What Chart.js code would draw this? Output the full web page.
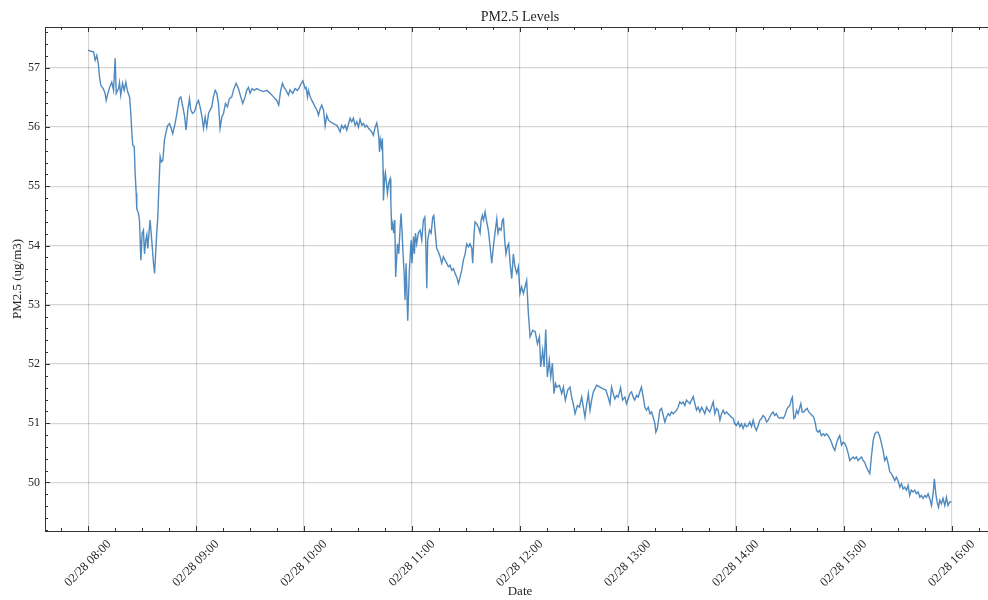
<!DOCTYPE html>
<html>
  <head>
    <meta charset="UTF-8" />
    <title>PM2.5 Levels</title>
    <style>
      html,
      body {
        margin: 0;
        padding: 0;
        overflow: hidden;
        background: #fff;
      }
      .chart-container {
        width: 1000px;
        height: 600px;
        position: relative;
      }
    </style>
    <script src="https://cdn.jsdelivr.net/npm/chart.js"></script>
  </head>
  <body>
    <div class="chart-container"><canvas id="chart"></canvas></div>
    <script>
      // minutes after 02/28 08:00
      const minutes = [
        0, 1.5, 3, 3.9, 4.8, 5.7, 6.3, 7, 8.5, 9.4,
        10, 10.7, 11.9, 13.1, 14.1, 15, 15.6, 16.9, 17.4, 18.1,
        19.1, 20, 20.9, 21.9, 23, 23.7, 24.3, 24.8, 25.6, 26.1,
        26.7, 27, 28, 28.5, 28.9, 29.3, 30, 30.7, 31.3, 32,
        32.6, 33.1, 33.7, 34.4, 35, 35.6, 36.3, 36.9, 37.4, 38.1,
        38.7, 39.3, 40, 40.7, 41.5, 42.4, 43.1, 44.1, 45.2, 46.1,
        47, 48.3, 49.3, 50.6, 51.5, 52.6, 53.5, 54.4, 55.4, 56.3,
        57, 58, 59.1, 60.4, 61.3, 62.2, 63.1, 64.1, 65, 65.9,
        66.9, 67.8, 68.7, 69.6, 70.6, 71.5, 72.4, 73.3, 74.3, 75.2,
        76.3, 77.4, 78.5, 79.8, 80.7, 82.2, 83.5, 84.8, 85.9, 87.2,
        88.1, 89.1, 90, 91.1, 92.2, 93.7, 95.6, 97.4, 99.3, 101.1,
        103, 104.8, 105.9, 107, 108, 108.9, 110, 111.3, 112.2, 113.7,
        115, 116.3, 117.4, 118.5, 119.3,
        120.6, 121.1, 121.9, 122.4, 123.4, 124.3, 125.2, 126.1, 127.1, 128,
        128.9, 129.8, 130.8, 131.7, 132.6, 133.5, 134.5, 136.3, 138.2, 139.1,
        140, 140.9, 141.9, 142.8, 143.7, 145.6, 146.5, 147.4, 148.4, 149.3,
        150.2, 151.1, 152.1, 153, 153.9, 154.8, 155.8, 156.7, 157.6, 158.5,
        159.5, 160.4, 160.9, 161.5, 161.9, 162.4, 163, 163.5, 163.9, 164.1,
        164.7, 165.2, 165.8, 166.3, 167.1, 167.8, 168.2, 168.7, 169.3, 169.8,
        170.4, 170.9, 171.5, 171.9, 172.6, 173.4, 173.9, 174.5, 175, 175.6,
        176.1, 176.7, 177.6, 178.5, 179.5, 180, 180.8, 181.3, 181.9, 182.6,
        183.5, 184.5, 185.4, 186.3, 187.1, 187.6, 188.2, 188.7, 189.7, 190.6,
        191.5, 192.1, 192.8, 193.7, 194.7, 195.6, 196.5, 197.4, 198.4, 199.3,
        200.2, 201.1, 202.1, 203, 203.9, 204.8, 205.8, 206.7, 207.6, 208.5,
        209.5, 210.4, 211.3, 212.2, 213.2, 213.7, 214.5, 215, 215.9, 216.9,
        217.8, 218.4, 219.1, 219.7, 220.6, 221.5, 222.4, 223.4, 224.3, 225.2,
        226.1, 227.1, 227.8, 228.5, 229.5, 230.2, 230.8, 231.5, 232.2, 233,
        233.7, 234.5, 235.4, 236.3, 237.2, 238.2, 239.1, 240, 240.9, 241.9,
        242.8, 243.7,
        244.6, 245.6, 247.1, 248.5, 249.7, 250.8, 251.5, 252.6, 253.4, 254.3,
        255.2, 256.3, 257.1, 258, 258.9, 259.7, 260.4, 261.9, 263.2, 264.1,
        265.2, 266.5, 267.8, 268.7, 269.6, 270.6, 271.9, 273, 274.3, 275.2,
        276.1, 277.1, 278, 278.9, 279.8, 280.8, 282.6,
        286.3, 287.7, 289, 290, 290.9, 291.8, 292.7, 293.7, 294.6, 295.9,
        297, 298.3, 299.2, 300.1, 301.1, 302, 302.9, 303.8, 304.8, 305.7,
        306.6, 307.5, 308.5, 309.4, 310.3, 311.3, 312.2, 313.1, 314, 315,
        315.5, 316.3, 317, 317.7, 318.7, 319.6, 320.5, 321.4, 322.4, 323.3,
        324.2, 325.1, 326.1, 327, 327.9, 328.8, 329.8, 330.7, 331.6, 332.5,
        333.5, 334.4, 335.3, 336.3, 337.2, 338.1, 339, 340, 340.9, 341.8,
        342.7, 343.7, 344.6, 345.5, 346.4, 347.4, 348.3, 349.2, 350.1, 351.1,
        352, 352.9, 353.8, 354.8, 355.7, 356.6, 357.5, 358.5, 359.4, 360.3,
        361.3, 362.2, 363.1, 364, 365, 365.9, 366.8, 367.7, 368.7, 369.6,
        370.5, 371.4, 372.4, 373.3, 374.2, 375.1, 376.1, 377, 377.9, 378.8,
        379.8, 380.7, 381.6, 382.5, 383.5, 384.4, 385.3, 386.3, 387.2, 388.1,
        389, 390, 390.9, 391.4, 392.2, 392.9, 393.7, 394.6, 395.5, 396.1,
        396.8, 397.7, 398.8, 399.6, 400.5, 401.4, 402.4, 403.3, 404.2, 404.8,
        405.7, 406.6, 407.5, 408.5, 409.4, 410.3, 411.3, 412.2, 413.1, 414,
        415, 415.9, 416.8, 417.7, 418.7, 419.6, 420.5, 421.4, 422.4, 423.3,
        424.2, 425.1, 426.1, 427, 427.9, 428.8, 429.8, 430.7, 431.6, 432.5,
        433.5, 434.4, 435.3, 436.3, 437.2, 438.1, 439, 440, 440.9, 441.8,
        442.7, 443.7, 444.6, 445.5, 446.4, 447.4, 448.3, 449.2, 450.1, 451.1,
        452, 452.9, 453.8, 454.8, 455.7, 456.6, 457.5, 458.5, 459.4, 460.3,
        461.3, 462.2, 463.1, 464, 465, 465.9, 466.8, 467.7, 468.7, 469.6,
        470.3, 471.1, 471.8, 472.6, 473.3, 474.2, 475.1, 476.1, 477, 477.9,
        478.8, 479.8
      ];

      // PM2.5 (ug/m3)
      const pm25 = [
        57.30, 57.28, 57.27, 57.13, 57.21, 57.05, 56.85, 56.71, 56.64, 56.57,
        56.45, 56.54, 56.67, 56.76, 56.62, 57.16, 56.57, 56.65, 56.75, 56.54,
        56.74, 56.62, 56.76, 56.60, 56.51, 56.23, 55.89, 55.69, 55.67, 55.22,
        54.88, 54.62, 54.54, 54.43, 54.09, 53.75, 54.21, 54.26, 53.86, 54.09,
        54.18, 53.95, 54.18, 54.43, 54.21, 53.98, 53.70, 53.53, 53.81, 54.21,
        54.48, 54.99, 55.50, 55.41, 55.44, 55.78, 55.89, 56.02, 56.06, 55.98,
        55.89, 56.06, 56.23, 56.48, 56.51, 56.34, 56.20, 55.95, 56.29, 56.48,
        56.29, 56.23, 56.26, 56.40, 56.45, 56.34, 56.20, 55.98, 56.17, 56.00,
        56.23, 56.29, 56.34, 56.51, 56.62, 56.57, 56.40, 55.98, 56.17, 56.23,
        56.40, 56.34, 56.48, 56.51, 56.62, 56.74, 56.65, 56.51, 56.40, 56.51,
        56.62, 56.67, 56.57, 56.65, 56.62, 56.65, 56.62, 56.60, 56.62, 56.57,
        56.51, 56.45, 56.37, 56.62, 56.74, 56.67, 56.62, 56.54, 56.63, 56.57,
        56.65, 56.62, 56.67, 56.74, 56.78,
        56.65, 56.67, 56.51, 56.62, 56.51, 56.45, 56.40, 56.34, 56.29, 56.20,
        56.31, 56.37, 56.29, 56.02, 56.20, 56.12, 56.09, 56.06, 56.03, 55.98,
        55.92, 56.03, 55.98, 56.03, 55.95, 56.15, 56.09, 56.15, 56.03, 56.09,
        56.00, 56.13, 56.03, 56.06, 56.00, 56.03, 55.98, 55.95, 55.92, 55.86,
        56.00, 56.07, 55.98, 55.84, 55.58, 55.78, 55.67, 55.81, 55.27, 54.76,
        55.10, 55.22, 55.05, 54.88, 55.07, 55.13, 54.76, 54.26, 54.37, 54.21,
        54.43, 53.47, 53.81, 54.03, 53.86, 54.31, 54.54, 54.21, 53.86, 53.53,
        53.08, 53.70, 52.73, 53.58, 54.09, 53.70, 54.15, 53.86, 54.21, 54.03,
        54.21, 54.26, 54.09, 54.43, 54.48, 54.09, 53.28, 54.09, 54.26, 54.21,
        54.48, 54.51, 54.26, 53.95, 53.89, 53.81, 53.70, 53.81, 53.75, 53.70,
        53.64, 53.67, 53.58, 53.61, 53.53, 53.47, 53.36, 53.47, 53.58, 53.75,
        53.86, 54.03, 53.98, 54.03, 53.95, 53.70, 54.21, 54.40, 54.37, 54.31,
        54.21, 54.43, 54.51, 54.43, 54.57, 54.40, 54.26, 53.98, 53.70, 53.98,
        54.21, 54.45, 54.21, 54.29, 54.26, 54.43, 54.45, 54.09, 53.86, 53.98,
        54.03, 53.70, 53.44, 53.86, 53.64, 53.53, 53.64, 53.19, 53.30, 53.19,
        53.30, 53.41,
        52.88, 52.46, 52.57, 52.54, 52.34, 52.46, 51.95, 52.23, 51.95, 52.58,
        51.78, 52.06, 51.78, 52.01, 51.50, 51.67, 51.61, 51.64, 51.50, 51.61,
        51.39, 51.56, 51.61, 51.44, 51.33, 51.16, 51.30, 51.27, 51.44, 51.27,
        51.10, 51.33, 51.50, 51.22, 51.39, 51.53, 51.64,
        51.58, 51.56, 51.44, 51.33, 51.61, 51.50, 51.41, 51.47, 51.44, 51.60,
        51.39, 51.44, 51.33, 51.41, 51.50, 51.53, 51.44, 51.39, 51.47, 51.44,
        51.53, 51.61, 51.44, 51.27, 51.22, 51.27, 51.16, 51.19, 51.10, 50.99,
        50.85, 50.91, 51.05, 51.22, 51.25, 51.13, 51.02, 51.10, 51.16, 51.13,
        51.19, 51.16, 51.19, 51.22, 51.27, 51.36, 51.33, 51.36, 51.30, 51.39,
        51.36, 51.33, 51.39, 51.45, 51.33, 51.22, 51.27, 51.19, 51.27, 51.22,
        51.16, 51.27, 51.22, 51.19, 51.27, 51.36, 51.16, 51.25, 51.22, 51.05,
        51.16, 51.22, 51.16, 51.19, 51.16, 51.13, 51.10, 51.08, 50.99, 50.96,
        51.02, 50.94, 50.99, 50.91, 50.99, 50.94, 50.96, 51.02, 50.94, 51.05,
        50.94, 50.88, 50.96, 51.05, 51.08, 51.13, 51.10, 51.02, 51.05, 51.10,
        51.16, 51.19, 51.13, 51.16, 51.10, 51.08, 51.10, 51.08, 51.13, 51.22,
        51.27, 51.30, 51.41, 51.44, 51.08, 51.10, 51.22, 51.16, 51.27, 51.33,
        51.19, 51.19, 51.23, 51.25, 51.19, 51.16, 51.13, 51.10, 50.99, 50.88,
        50.85, 50.88, 50.79, 50.82, 50.79, 50.82, 50.79, 50.74, 50.68, 50.60,
        50.54, 50.66, 50.74, 50.79, 50.63, 50.68, 50.66, 50.60, 50.49, 50.37,
        50.40, 50.43, 50.40, 50.43, 50.37, 50.40, 50.43, 50.37, 50.34, 50.26,
        50.20, 50.15, 50.43, 50.71, 50.82, 50.85, 50.85, 50.77, 50.66, 50.54,
        50.37, 50.43, 50.32, 50.18, 50.15, 50.09, 50.03, 50.09, 50.03, 49.92,
        49.98, 49.89, 49.92, 49.87, 49.95, 49.78, 49.87, 49.84, 49.87, 49.81,
        49.84, 49.75, 49.78, 49.73, 49.78, 49.75, 49.81, 49.73, 49.61, 49.81,
        50.06, 49.81, 49.67, 49.58, 49.70, 49.64, 49.73, 49.61, 49.75, 49.61,
        49.67, 49.67
      ];

      const hourLabels = [
        "02/28 08:00", "02/28 09:00", "02/28 10:00", "02/28 11:00",
        "02/28 12:00", "02/28 13:00", "02/28 14:00", "02/28 15:00", "02/28 16:00"
      ];

      const serif = "'Liberation Serif', 'DejaVu Serif', serif";
      const ink = "#262626";

      // inward tick marks (major + minor), like the matplotlib style
      const tickMarks = {
        id: "tickMarks",
        afterDatasetsDraw(chart) {
          const { ctx, chartArea: a, scales } = chart;
          const x = scales.x, y = scales.y;
          ctx.save();
          ctx.strokeStyle = "#333";
          ctx.lineWidth = 1;
          ctx.beginPath();
          for (let m = -15; m <= 495; m += 15) {
            const px = Math.round(x.getPixelForValue(m)) + 0.5;
            if (px < a.left || px > a.right) continue;
            const len = m % 60 === 0 ? 5 : 3;
            ctx.moveTo(px, a.bottom);
            ctx.lineTo(px, a.bottom - len);
            ctx.moveTo(px, a.top);
            ctx.lineTo(px, a.top + len);
          }
          for (let k = 246; k <= 288; k++) {
            const py = Math.round(y.getPixelForValue(k / 5)) + 0.5;
            if (py < a.top || py > a.bottom) continue;
            const len = k % 5 === 0 ? 5 : 3;
            ctx.moveTo(a.left, py);
            ctx.lineTo(a.left + len, py);
          }
          ctx.stroke();
          ctx.restore();
        },
      };

      const ctx = document.getElementById("chart").getContext("2d");
      new Chart(ctx, {
        type: "line",
        data: {
          datasets: [
            {
              label: "PM2.5",
              data: pm25.map((v, i) => ({ x: minutes[i], y: v })),
              borderColor: "rgba(12, 93, 165, 0.72)",
              borderWidth: 1.4,
              pointRadius: 0,
              tension: 0,
              fill: false,
            },
          ],
        },
        options: {
          responsive: true,
          maintainAspectRatio: false,
          animation: false,
          layout: { padding: { left: 0, right: 5, top: 0, bottom: 0 } },
          plugins: {
            legend: { display: false },
            title: { display: false },
            tooltip: { enabled: false },
          },
          scales: {
            x: {
              type: "linear",
              position: "bottom",
              min: -24,
              max: 504,
              afterFit: (s) => { s.height = 69; },
              grid: { color: "rgba(0,0,0,0.16)", lineWidth: 1.2, drawTicks: false },
              border: { display: true, color: "#333", width: 1 },
              ticks: {
                stepSize: 60,
                includeBounds: false,
                autoSkip: false,
                minRotation: 45,
                maxRotation: 45,
                labelOffset: 21,
                padding: 6,
                color: ink,
                font: { family: serif, size: 12.5 },
                callback: (v) => hourLabels[Math.round(v / 60)],
              },
              title: {
                display: true,
                text: "Date",
                color: ink,
                font: { family: serif, size: 13 },
                padding: { top: 0, bottom: 1 },
              },
            },
            x2: {
              type: "linear",
              position: "top",
              min: -24,
              max: 504,
              afterFit: (s) => { s.height = 27; },
              grid: { display: false, drawTicks: false },
              border: { display: true, color: "#333", width: 1 },
              ticks: { display: false },
              title: {
                display: true,
                text: "PM2.5 Levels",
                color: ink,
                font: { family: serif, size: 14 },
                padding: { top: 9, bottom: 0 },
              },
            },
            y: {
              type: "linear",
              min: 49.18,
              max: 57.69,
              afterFit: (s) => { s.width = 45; },
              grid: { color: "rgba(0,0,0,0.16)", lineWidth: 1.2, drawTicks: false },
              border: { display: true, color: "#333", width: 1 },
              ticks: {
                stepSize: 1,
                includeBounds: false,
                padding: 5,
                color: ink,
                font: { family: serif, size: 12 },
              },
              title: {
                display: true,
                text: "PM2.5 (ug/m3)",
                color: ink,
                font: { family: serif, size: 13 },
                padding: { top: 10, bottom: 0 },
              },
            },
          },
        },
        plugins: [tickMarks],
      });
    </script>
  </body>
</html>
